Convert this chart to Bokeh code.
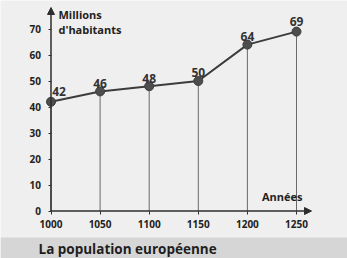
from bokeh.plotting import figure
from bokeh.models import (LinearAxis, FixedTicker, ColumnDataSource, Arrow,
                          NormalHead, Label, BoxAnnotation)
from bokeh.core.properties import value
from bokeh.embed import file_html
from bokeh.resources import INLINE

# ---- data ----
years = [1000, 1050, 1100, 1150, 1200, 1250]
population = [42, 46, 48, 50, 64, 69]
y_ticks = [0, 10, 20, 30, 40, 50, 60, 70]
x_ticks = [1000, 1050, 1100, 1150, 1200, 1250]
title_text = "La population européenne"
y_title = "Millions\nd'habitants"
x_title = "Années"

# ---- layout constants (pixels) ----
FONT = "Open Sans"
W, H = 347, 258
PX_X = 0.982      # px per year
PX_Y = 2.6        # px per million
X0_PX = 50.5      # x position of year 1000 (from left)
Y0_PX = 210.5     # y position of value 0 (from top)

x_start = 1000 - X0_PX / PX_X
x_end = 1000 + (W - X0_PX) / PX_X
y_end = Y0_PX / PX_Y
y_start = (Y0_PX - H) / PX_Y

def xpx(px):
    return 1000 + (px - X0_PX) / PX_X

def ypx(py):
    return (Y0_PX - py) / PX_Y

BG = "#efefef"
INK = "#2e2e2e"

p = figure(width=W, height=H, x_range=(x_start, x_end), y_range=(y_start, y_end),
           output_backend="svg", toolbar_location=None,
           x_axis_location=None, y_axis_location=None, min_border=0,
           background_fill_color=BG, border_fill_color=BG, outline_line_color=None)
p.grid.grid_line_color = None

# bottom title band
band = BoxAnnotation(top=ypx(237), fill_color="#d6d6d6", fill_alpha=1,
                     line_color=None, level="underlay")
p.add_layout(band)

src = ColumnDataSource(dict(
    x=years, y=population, label=[str(v) for v in population],
    dx=[8, 0, 0, 0, 0, 0],
    dy=[-10, -8, -8, -9, -8, -10],
))

# drop lines
p.segment(x0="x", y0=0, x1="x", y1="y", source=src, line_color="#5a5a5a", line_width=0.9)
# series line + points
p.line("x", "y", source=src, line_color="#3c3c3c", line_width=2)
p.scatter("x", "y", source=src, size=9, fill_color="#4d4d4d", line_color="#3c3c3c")
# value labels
p.text(x="x", y="y", text="label", source=src, x_offset="dx", y_offset="dy",
       text_align="center", text_baseline="alphabetic",
       text_font=value(FONT), text_font_style="bold", text_font_size="12px",
       text_color="#333333")

# axes (fixed inside the frame)
xax = LinearAxis(fixed_location=0, ticker=FixedTicker(ticks=x_ticks),
                 axis_line_color=None, major_tick_out=3, major_tick_in=0,
                 major_tick_line_color=INK, minor_tick_line_color=None,
                 major_label_standoff=6, major_label_text_font=FONT,
                 major_label_text_font_style="bold", major_label_text_font_size="10px",
                 major_label_text_color="#222222")
yax = LinearAxis(fixed_location=1000, ticker=FixedTicker(ticks=y_ticks),
                 axis_line_color=None, major_tick_out=3, major_tick_in=0,
                 major_tick_line_color=INK, minor_tick_line_color=None,
                 major_label_standoff=7, major_label_text_font=FONT,
                 major_label_text_font_style="bold", major_label_text_font_size="10px",
                 major_label_text_color="#222222")
p.add_layout(xax, "below")
p.add_layout(yax, "left")

# axis lines with arrowheads
p.add_layout(Arrow(end=NormalHead(size=7, fill_color=INK, line_color=INK),
                   x_start=1000, y_start=0, x_end=1000, y_end=ypx(7),
                   line_color=INK, line_width=1.5))
p.add_layout(Arrow(end=NormalHead(size=7, fill_color=INK, line_color=INK),
                   x_start=1000, y_start=0, x_end=xpx(311), y_end=0,
                   line_color=INK, line_width=1.5))

# axis titles
p.add_layout(Label(x=xpx(58), y=ypx(6), text=y_title,
                   text_align="left", text_baseline="top", text_font=FONT,
                   text_font_style="bold", text_font_size="11px", text_color="#222222",
                   text_line_height=1.05))
p.add_layout(Label(x=xpx(302), y=ypx(196), text=x_title,
                   text_align="right", text_baseline="middle", text_font=FONT,
                   text_font_style="bold", text_font_size="11px", text_color="#222222"))

# chart title in the band
p.add_layout(Label(x=xpx(38), y=ypx(248), text=title_text,
                   text_align="left", text_baseline="middle", text_font=FONT,
                   text_font_style="bold", text_font_size="13.5px", text_color="#1e1e1e"))

html = file_html(p, INLINE)
open("out.html", "w").write(html)
